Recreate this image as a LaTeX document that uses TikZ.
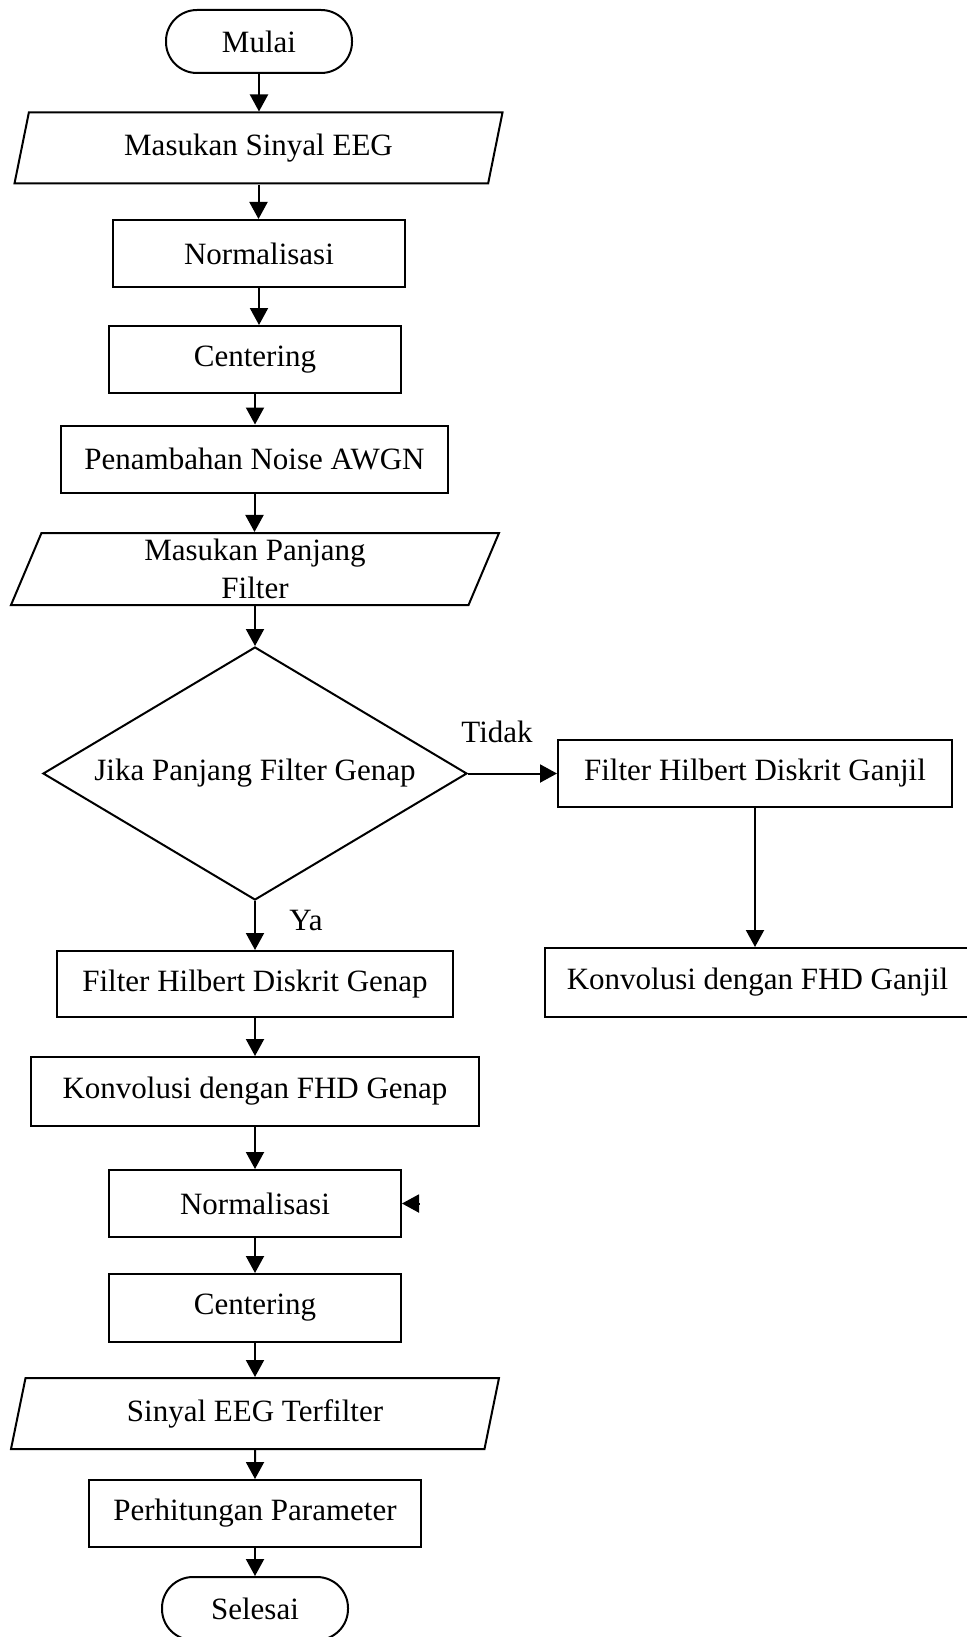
\documentclass[tikz,border=0pt]{standalone}
\usepackage{fontspec}
\setmainfont{Liberation Serif}
\usepackage{tikz}
\usetikzlibrary{arrows.meta,shapes.geometric}

\begin{document}
\begin{tikzpicture}[x=1pt, y=-1pt,
    base/.style={draw, line width=2pt, inner sep=0, align=center,
        font=\fontsize{31}{38}\selectfont},
    term/.style={base, rectangle, rounded corners=31pt, minimum width=186pt, minimum height=63pt},
    proc/.style={base, rectangle, minimum height=67pt},
    io/.style={base, trapezium, trapezium left angle=63, trapezium right angle=117,
        trapezium stretches body, minimum width=488pt, minimum height=71pt},
    cond/.style={base, diamond, aspect=1.67, minimum width=424pt, minimum height=253pt},
    lbl/.style={font=\fontsize{31}{38}\selectfont, inner sep=0},
    arr/.style={line width=2pt, -{Triangle[length=17pt,width=18pt]}}
]
\useasboundingbox (0,0) rectangle (966,1637);

% Main flow
\node[term] (mulai) at (259,41.5) {Mulai};
\node[io] (sinyal) at (258.5,148) {Masukan Sinyal EEG};
\node[proc, minimum width=292pt] (norm1) at (259,253.5) {Normalisasi};
\node[proc, minimum width=292pt] (cent1) at (255,359.5) {Centering};
\node[proc, minimum width=387pt] (noise) at (254.5,459) {Penambahan Noise AWGN};
\node[io, minimum height=72pt] (panjang) at (255,569) {Masukan Panjang\\Filter};
\node[cond] (cek) at (255,773.5) {Jika Panjang Filter Genap};

% Odd branch
\node[proc, minimum width=394pt] (ganjil) at (755,773.5) {Filter Hilbert Diskrit Ganjil};
\node[proc, minimum width=425pt, minimum height=69pt] (konvganjil) at (757.5,982.5) {Konvolusi dengan FHD Ganjil};

% Even branch
\node[proc, minimum width=396pt, minimum height=66pt] (genap) at (255,984) {Filter Hilbert Diskrit Genap};
\node[proc, minimum width=448pt, minimum height=69pt] (konvgenap) at (255,1091.5) {Konvolusi dengan FHD Genap};
\node[proc, minimum width=292pt] (norm2) at (255,1203.5) {Normalisasi};
\node[proc, minimum width=292pt, minimum height=68pt] (cent2) at (255,1308) {Centering};
\node[io] (hasil) at (255,1413.5) {Sinyal EEG Terfilter};
\node[proc, minimum width=332pt] (hitung) at (255,1513.5) {Perhitungan Parameter};
\node[term] (selesai) at (255,1608.5) {Selesai};

% Labels
\node[lbl] (tidak) at (497,732) {Tidak};
\node[lbl] (ya) at (306,920) {Ya};

% Connectors
\draw[arr] (mulai) -- (mulai |- sinyal.north);
\draw[arr] (sinyal) -- (sinyal |- norm1.north);
\draw[arr] (norm1) -- (norm1 |- cent1.north);
\draw[arr] (cent1) -- (cent1 |- noise.north);
\draw[arr] (noise) -- (noise |- panjang.north);
\draw[arr] (panjang) -- (panjang |- cek.north);
\draw[arr] (cek.east) -- (ganjil.west);
\draw[arr] (ganjil) -- (ganjil |- konvganjil.north);
\draw[arr] (cek) -- (cek |- genap.north);
\draw[arr] (genap) -- (genap |- konvgenap.north);
\draw[arr] (konvgenap) -- (konvgenap |- norm2.north);
\draw[arr] (norm2) -- (norm2 |- cent2.north);
\draw[arr] (cent2) -- (cent2 |- hasil.north);
\draw[arr] (hasil) -- (hasil |- hitung.north);
\draw[arr] (hitung) -- (hitung |- selesai.north);
\coordinate (lepas) at ([xshift=17pt]norm2.east);
\draw[arr] (lepas) -- (norm2.east);
\end{tikzpicture}
\end{document}
